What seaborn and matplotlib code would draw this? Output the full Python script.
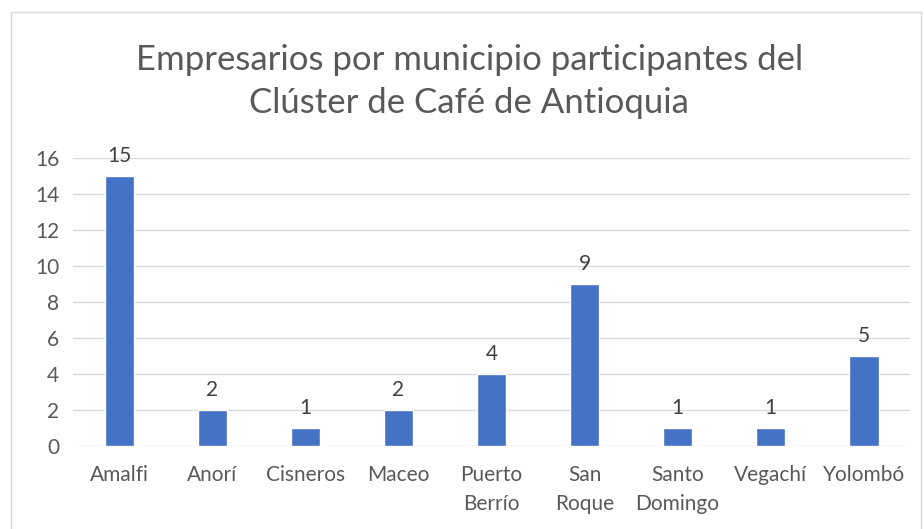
import matplotlib
matplotlib.use("Agg")
import matplotlib.pyplot as plt
import seaborn as sns
import pandas as pd
from matplotlib.patches import Rectangle

municipios = ["Amalfi", "Anorí", "Cisneros", "Maceo", "Puerto\nBerrío",
              "San\nRoque", "Santo\nDomingo", "Vegachí", "Yolombó"]
empresarios = [15, 2, 1, 2, 4, 9, 1, 1, 5]
y_ticks = [0, 2, 4, 6, 8, 10, 12, 14, 16]

sns.set_style("white")
plt.rcParams["font.family"] = ["Lato", "DejaVu Sans"]

df = pd.DataFrame({"municipio": municipios, "empresarios": empresarios})

fig = plt.figure(figsize=(9.24, 5.29), dpi=100)
ax = fig.add_axes([0.079, 0.157, 0.906, 0.544])

sns.barplot(data=df, x="municipio", y="empresarios", color="#4472C4",
            width=0.32, saturation=1, ax=ax, zorder=3)

for i, v in enumerate(empresarios):
    ax.text(i, v + 0.55, str(v), ha="center", va="bottom",
            fontsize=15, color="#404040")

ax.set_ylim(0, 16)
ax.set_yticks(y_ticks)
ax.yaxis.grid(True, color="#D9D9D9", linewidth=1, zorder=0)
ax.set_axisbelow(True)
for s in ax.spines.values():
    s.set_visible(False)
ax.tick_params(axis="both", length=0, labelsize=15, labelcolor="#595959")
ax.tick_params(axis="x", pad=14)
ax.tick_params(axis="y", pad=10)
for lbl in ax.get_xticklabels():
    lbl.set_linespacing(1.55)
    lbl.set_verticalalignment("top")
ax.set_xlabel("")
ax.set_ylabel("")
ax.set_xlim(-0.5, len(municipios) - 0.5)

fig.text(0.508, 0.846, "Empresarios por municipio participantes del\nClúster de Café de Antioquia",
         ha="center", va="center", fontsize=25, color="#595959", linespacing=1.45)

fig.patches.append(Rectangle((0.012, -0.05), 0.985, 1.027, transform=fig.transFigure,
                             fill=False, edgecolor="#D9D9D9", linewidth=1))

fig.savefig("out.png", dpi=100)
